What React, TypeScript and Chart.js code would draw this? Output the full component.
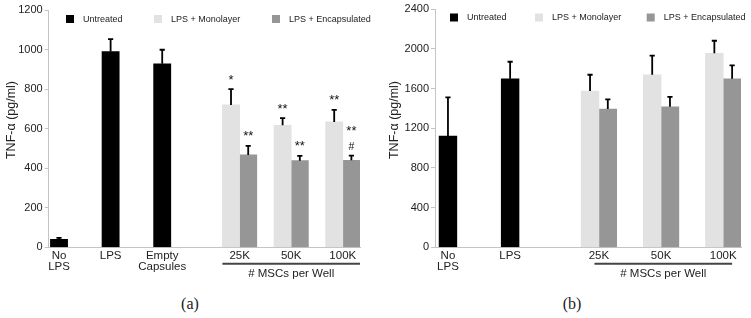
import React, { useEffect, useRef } from 'react';
import { Chart, registerables } from 'chart.js';

Chart.register(...registerables);

// ---------- shared ----------
const SERIES = ['Untreated', 'LPS + Monolayer', 'LPS + Encapsulated'];
const COLORS = ['#000000', '#e2e2e2', '#969696'];
const Y_TITLE = 'TNF-α (pg/ml)';
const GROUP_TITLE = '# MSCs per Well';
const DOSES = ['25K', '50K', '100K'];

// ---------- panel (a) ----------
const A_CTRL_LABELS = ['No\nLPS', 'LPS', 'Empty\nCapsules'];
const A_CTRL = [40, 990, 928];
const A_CTRL_ERR = [8, 63, 71];
const A_MONO = [720, 617, 634];
const A_MONO_ERR = [80, 36, 61];
const A_ENC = [467, 438, 440];
const A_ENC_ERR = [46, 24, 24];
const A_MONO_MARKS = [['*'], ['**'], ['**']];
const A_ENC_MARKS = [['**'], ['**'], ['#', '**']];

// ---------- panel (b) ----------
const B_CTRL_LABELS = ['No\nLPS', 'LPS'];
const B_CTRL = [1122, 1700];
const B_CTRL_ERR = [390, 171];
const B_MONO = [1576, 1740, 1956];
const B_MONO_ERR = [164, 192, 127];
const B_ENC = [1394, 1417, 1700];
const B_ENC_ERR = [98, 100, 135];
const B_MONO_MARKS: string[][] = [[], [], []];
const B_ENC_MARKS: string[][] = [[], [], []];

const FONT = "'Liberation Sans', Arial, Helvetica, sans-serif";

type Panel = {
  ctrlLabels: string[];
  ctrl: number[];
  ctrlErr: number[];
  mono: number[];
  monoErr: number[];
  enc: number[];
  encErr: number[];
  monoMarks: string[][];
  encMarks: string[][];
  yMax: number;
  yStep: number;
  // layout (positions along the x scale, pixels)
  ctrlPos: number[];
  groupPos: number[];
  bracket: [number, number];
  xMin: number;
  xMax: number;
  width: number;
  height: number;
  left: number;
  top: number;
  right: number;
  bottom: number;
  legendX: number[];
  legendY: number;
  titleX: number;
  titleY: number;
};

const PANEL_A: Panel = {
  ctrlLabels: A_CTRL_LABELS, ctrl: A_CTRL, ctrlErr: A_CTRL_ERR,
  mono: A_MONO, monoErr: A_MONO_ERR, enc: A_ENC, encErr: A_ENC_ERR,
  monoMarks: A_MONO_MARKS, encMarks: A_ENC_MARKS,
  yMax: 1200, yStep: 200,
  ctrlPos: [0, 3, 6], groupPos: [10.5, 13.5, 16.5], bracket: [9.5, 17.5],
  xMin: -0.6, xMax: 17.5,
  width: 375, height: 290, left: 48.7, top: 10, right: 360, bottom: 247.3,
  legendX: [66, 154, 272], legendY: 19, titleX: 12, titleY: 120,
};

const PANEL_B: Panel = {
  ctrlLabels: B_CTRL_LABELS, ctrl: B_CTRL, ctrlErr: B_CTRL_ERR,
  mono: B_MONO, monoErr: B_MONO_ERR, enc: B_ENC, encErr: B_ENC_ERR,
  monoMarks: B_MONO_MARKS, encMarks: B_ENC_MARKS,
  yMax: 2400, yStep: 400,
  ctrlPos: [0, 3.5], groupPos: [8.5, 12, 15.5], bracket: [8.25, 16.0],
  xMin: -0.73, xMax: 16.5,
  width: 376, height: 290, left: 60, top: 9.3, right: 366, bottom: 247.3,
  legendX: [75, 160, 271.7], legendY: 17.5, titleX: 20, titleY: 120,
};

function makeExtras(p: Panel) {
  return {
    id: 'extras',
    afterDatasetsDraw(chart: any) {
      const ctx = chart.ctx;
      const ys = chart.scales.y;
      const vals = [p.ctrl, p.mono, p.enc];
      const errs = [p.ctrlErr, p.monoErr, p.encErr];
      const marks: (string[][] | null)[] = [null, p.monoMarks, p.encMarks];
      ctx.save();
      chart.data.datasets.forEach((_ds: any, di: number) => {
        const meta = chart.getDatasetMeta(di);
        meta.data.forEach((bar: any, i: number) => {
          const top = ys.getPixelForValue(vals[di][i] + errs[di][i]);
          ctx.strokeStyle = '#000';
          ctx.lineWidth = 1.8;
          ctx.beginPath();
          ctx.moveTo(bar.x, bar.y);
          ctx.lineTo(bar.x, top);
          ctx.moveTo(bar.x - 2.6, top);
          ctx.lineTo(bar.x + 2.6, top);
          ctx.stroke();
          const m = marks[di] ? marks[di]![i] : null;
          if (m && m.length) {
            let by = top - 6;
            m.forEach((s) => {
              ctx.font = (s === '#' ? '10.5px ' : '13px ') + FONT;
              ctx.fillStyle = '#111';
              ctx.textAlign = 'center';
              ctx.textBaseline = 'alphabetic';
              ctx.fillText(s, bar.x, s === '#' ? by : by + 0.5);
              by -= 15.5;
            });
          }
        });
      });
      ctx.restore();
    },
    afterDraw(chart: any) {
      const ctx = chart.ctx;
      const xs = chart.scales.x;
      const area = chart.chartArea;
      ctx.save();
      // legend
      ctx.font = '9px ' + FONT;
      ctx.textBaseline = 'middle';
      ctx.textAlign = 'left';
      SERIES.forEach((name, i) => {
        const lx = p.legendX[i];
        ctx.fillStyle = COLORS[i];
        ctx.fillRect(lx, p.legendY - 4, 8, 8);
        ctx.fillStyle = '#222';
        ctx.fillText(name, lx + 17, p.legendY + 0.5);
      });
      // y title
      ctx.save();
      ctx.translate(p.titleX, p.titleY);
      ctx.rotate(-Math.PI / 2);
      ctx.font = '12.5px ' + FONT;
      ctx.fillStyle = '#222';
      ctx.textAlign = 'center';
      ctx.textBaseline = 'middle';
      ctx.fillText(Y_TITLE, 0, 0);
      ctx.restore();
      // group bracket
      const x0 = xs.getPixelForValue(p.bracket[0]);
      const x1 = xs.getPixelForValue(p.bracket[1]);
      const ly = area.bottom + 16.4;
      ctx.strokeStyle = '#444';
      ctx.lineWidth = 2;
      ctx.beginPath();
      ctx.moveTo(x0, ly);
      ctx.lineTo(x1, ly);
      ctx.stroke();
      ctx.font = '11.5px ' + FONT;
      ctx.fillStyle = '#222';
      ctx.textAlign = 'center';
      ctx.textBaseline = 'middle';
      ctx.fillText(GROUP_TITLE, (x0 + x1) / 2, area.bottom + 27);
      ctx.restore();
    },
  };
}

function buildConfig(p: Panel): any {
  const tickVals = [...p.ctrlPos, ...p.groupPos];
  const tickLabels = [...p.ctrlLabels, ...DOSES].map((s) => s.split('\n'));
  const datasets = [
    {
      label: SERIES[0],
      data: p.ctrl.map((v, i) => ({ x: p.ctrlPos[i], y: v })),
      backgroundColor: COLORS[0],
    },
    {
      label: SERIES[1],
      data: p.mono.map((v, i) => ({ x: p.groupPos[i] - 0.5, y: v })),
      backgroundColor: COLORS[1],
    },
    {
      label: SERIES[2],
      data: p.enc.map((v, i) => ({ x: p.groupPos[i] + 0.5, y: v })),
      backgroundColor: COLORS[2],
    },
  ];
  return {
    type: 'bar',
    data: { datasets },
    options: {
      animation: false,
      responsive: false,
      maintainAspectRatio: false,
      layout: { padding: { top: p.top, right: p.width - p.right, left: 0, bottom: 0 } },
      datasets: {
        bar: {
          grouped: false,
          categoryPercentage: 1,
          barPercentage: 1,
          borderWidth: 0,
        },
      },
      plugins: { legend: { display: false }, tooltip: { enabled: false }, title: { display: false } },
      scales: {
        x: {
          type: 'linear',
          min: p.xMin,
          max: p.xMax,
          offset: false,
          afterBuildTicks: (scale: any) => {
            scale.ticks = tickVals.map((v) => ({ value: v }));
          },
          afterFit: (scale: any) => {
            scale.height = p.height - p.bottom;
          },
          grid: { display: false, drawTicks: false },
          border: { display: true, color: '#c4c4c4', width: 1 },
          ticks: {
            autoSkip: false,
            maxRotation: 0,
            minRotation: 0,
            padding: 2.5,
            color: '#222',
            font: { family: FONT, size: 11.5, lineHeight: 1.0 },
            callback: (_v: any, i: number) => tickLabels[i],
          },
        },
        y: {
          type: 'linear',
          min: 0,
          max: p.yMax,
          afterFit: (scale: any) => {
            scale.width = p.left;
          },
          grid: { display: true, drawOnChartArea: false, drawTicks: true, tickLength: 4, color: '#c4c4c4' },
          border: { display: true, color: '#c4c4c4', width: 1 },
          ticks: {
            stepSize: p.yStep,
            padding: 2,
            color: '#222',
            font: { family: FONT, size: 11 },
            callback: (v: any) => String(v),
          },
        },
      },
    },
    plugins: [makeExtras(p)],
  };
}

function PanelChart({ p, left }: { p: Panel; left: number }) {
  const ref = useRef<HTMLCanvasElement | null>(null);
  useEffect(() => {
    if (!ref.current) return;
    const chart = new Chart(ref.current, buildConfig(p));
    return () => chart.destroy();
  }, [p]);
  return (
    <canvas
      ref={ref}
      width={p.width}
      height={p.height}
      style={{ position: 'absolute', left, top: 0, width: p.width, height: p.height }}
    />
  );
}

const captionStyle: React.CSSProperties = {
  position: 'absolute',
  top: 294,
  width: 60,
  textAlign: 'center',
  fontFamily: "'Liberation Serif', 'DejaVu Serif', serif",
  fontSize: 16,
  lineHeight: '20px',
  color: '#222',
};

export default function App() {
  return (
    <div style={{ position: 'absolute', left: 0, top: 0, width: 751, height: 318, background: '#fff', overflow: 'hidden' }}>
      <PanelChart p={PANEL_A} left={0} />
      <PanelChart p={PANEL_B} left={375} />
      <div style={{ ...captionStyle, left: 190 - 30 }}>(a)</div>
      <div style={{ ...captionStyle, left: 572 - 30 }}>(b)</div>
    </div>
  );
}
